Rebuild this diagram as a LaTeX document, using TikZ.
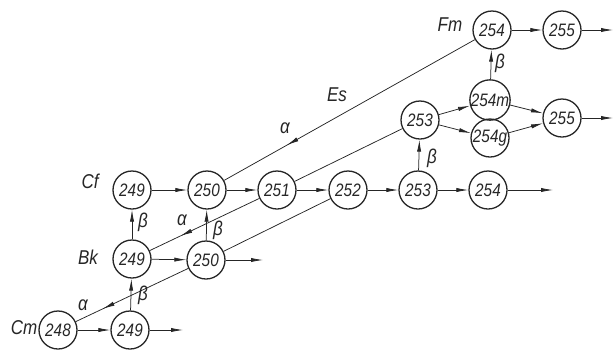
\documentclass[tikz,border=0pt]{standalone}
\usepackage{fontspec}
\newfontfamily\gost[FakeStretch=0.85]{Liberation Sans}
\usetikzlibrary{arrows.meta,decorations.markings}
\definecolor{ink}{HTML}{262626}
\tikzset{
  st/.style={circle, draw=ink, line width=1.3pt, minimum size=38pt, inner sep=0pt,
    font=\gost\itshape\fontsize{18}{18}\selectfont, text=ink},
  lbl/.style={font=\gost\itshape\fontsize{20}{20}\selectfont, text=ink, inner sep=0pt},
  ar/.style={draw=ink, line width=0.75pt, -{Latex[length=12pt,width=4.2pt]}},
  ln/.style={draw=ink, line width=0.75pt},
  midar/.style={draw=ink, line width=0.75pt, postaction={decorate},
    decoration={markings, mark=at position #1 with {\arrow{Latex[length=12pt,width=4.2pt]}}}}
}
\begin{document}
\begin{tikzpicture}[x=1pt,y=-1pt]
\useasboundingbox (0,0) rectangle (616,349);
% nodes
\node[st] (cm248) at (58,330) {248};
\node[st] (cm249) at (130,330) {249};
\node[st] (bk249) at (132,259) {249};
\node[st] (bk250) at (206,260) {250};
\node[st] (cf249) at (132,190) {249};
\node[st] (cf250) at (207,190) {250};
\node[st] (r251) at (277,190) {251};
\node[st] (r252) at (348,190) {252};
\node[st] (r253) at (418,190) {253};
\node[st] (r254) at (488,190) {254};
\node[st] (u253) at (420,120) {253};
\node[st] (m254) at (490,100) {254m};
\node[st] (g254) at (490,138) {254g};
\node[st] (u255) at (562,118) {255};
\node[st] (fm254) at (492,30) {254};
\node[st] (fm255) at (562,30) {255};
% free ends
\coordinate (o1) at (613,30);
\coordinate (o2) at (613,118);
\coordinate (o3) at (553,190);
\coordinate (o4) at (263,260);
\coordinate (o5) at (183,330);
% labels
\node[lbl] (tcf) at (90,181) {Cf};
\node[lbl] (tbk) at (88,257) {Bk};
\node[lbl] (tcm) at (24,328) {Cm};
\node[lbl] (tfm) at (450,25) {Fm};
\node[lbl] (tes) at (337,95) {Es};
\node[lbl] (a1) at (285,128) {α};
\node[lbl] (a2) at (182,220) {α};
\node[lbl] (a3) at (83,305) {α};
\node[lbl] (b1) at (143,222) {β};
\node[lbl] (b2) at (218,230) {β};
\node[lbl] (b3) at (143,295) {β};
\node[lbl] (b4) at (432,158) {β};
\node[lbl] (b5) at (500,63) {β};
% horizontal chains
\draw[ar] (cf249) -- (cf250);
\draw[ar] (cf250) -- (r251);
\draw[ar] (r251) -- (r252);
\draw[ar] (r252) -- (r253);
\draw[ar] (r253) -- (r254);
\draw[ar] (r254) -- (o3);
\draw[ar] (bk249) -- (bk250);
\draw[ar] (bk250) -- (o4);
\draw[ar] (cm248) -- (cm249);
\draw[ar] (cm249) -- (o5);
\draw[ar] (fm254) -- (fm255);
\draw[ar] (fm255) -- (o1);
\draw[ar] (u253) -- (m254);
\draw[ar] (u253) -- (g254);
\draw[ar] (m254) -- (u255);
\draw[ar] (g254) -- (u255);
\draw[ar] (u255) -- (o2);
% beta (vertical)
\draw[ar] (cm249) -- (bk249);
\draw[ar] (bk249) -- (cf249);
\draw[ar] (bk250) -- (cf250);
\draw[ar] (r253) -- (u253);
\draw[ar] (m254) -- (fm254);
% alpha (diagonal)
\draw[midar=0.75] (fm254) -- (cf250);
\draw[ln] (u253) -- (r251);
\draw[midar=0.72] (r251) -- (bk249);
\draw[ln] (r252) -- (bk250);
\draw[midar=0.76] (bk250) -- (cm248);
\end{tikzpicture}
\end{document}
